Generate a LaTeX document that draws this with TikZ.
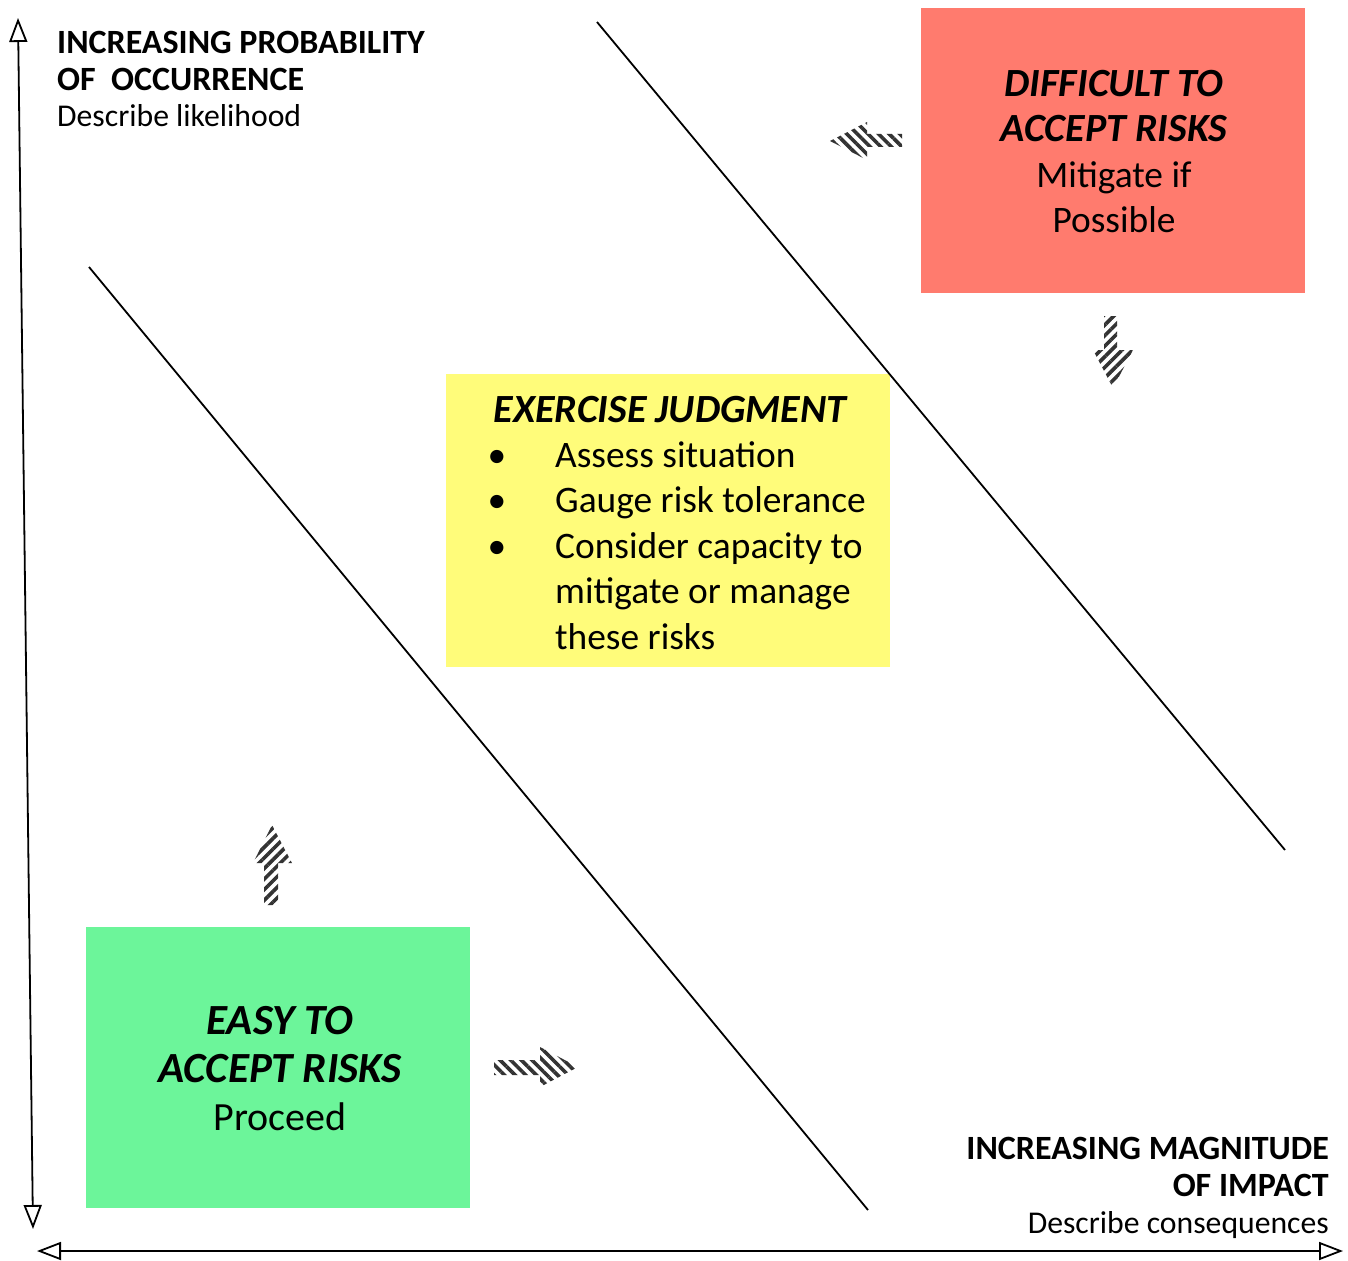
\documentclass[tikz,border=0pt]{standalone}
\usepackage{fontspec}
\setmainfont{Carlito}
\usetikzlibrary{arrows.meta,patterns.meta}
\definecolor{hardred}{HTML}{FF7B6E}
\definecolor{judgeyellow}{HTML}{FFFC7A}
\definecolor{easygreen}{HTML}{6CF59A}
\tikzset{
  axis/.style={line width=1.8pt,{Triangle[open,length=24pt,width=18pt,line width=1.8pt]}-{Triangle[open,length=24pt,width=18pt,line width=1.8pt]}},
  divider/.style={line width=1.8pt},
  striped/.style={fill=white,pattern={Lines[angle=#1,distance=7.5pt,line width=3.6pt]},pattern color=black!80},
  axislabel/.style={font=\fontsize{34}{37}\selectfont\bfseries,inner sep=0pt},
  axisnote/.style={font=\fontsize{31.7}{37}\selectfont,inner sep=0pt},
  boxhead/.style={font=\fontsize{40}{45}\selectfont\bfseries\itshape,inner sep=0pt},
  boxbody/.style={font=\fontsize{37.4}{45}\selectfont,inner sep=0pt},
  greenhead/.style={font=\fontsize{43}{48}\selectfont\bfseries\itshape,inner sep=0pt},
  greenbody/.style={font=\fontsize{40}{48}\selectfont,inner sep=0pt},
}
\begin{document}
\begin{tikzpicture}[x=1pt,y=-1pt]
\useasboundingbox (0,0) rectangle (1348,1260);

% coloured zones
\fill[hardred] (921,8) rectangle (1305,293);
\fill[judgeyellow] (446,374) rectangle (890,667);
\fill[easygreen] (86,927) rectangle (470,1208);

% diagonal dividers
\coordinate (d1a) at (597,22);
\coordinate (d1b) at (1285,850);
\coordinate (d2a) at (89,267);
\coordinate (d2b) at (868,1210);
\draw[divider] (d1a) -- (d1b);
\draw[divider] (d2a) -- (d2b);

% axes
\coordinate (ytop) at (18,18);
\coordinate (ybot) at (33,1229);
\coordinate (xleft) at (37,1251);
\coordinate (xright) at (1343,1251);
\draw[axis] (ybot) -- (ytop);
\draw[axis] (xleft) -- (xright);

% axis labels
\node[axislabel,anchor=base west] (yl1) at (57,54) {INCREASING PROBABILITY};
\node[axislabel,anchor=base west] (yl2) at (57,91) {OF\ \ OCCURRENCE};
\node[axisnote,anchor=base west] (yl3) at (57,127) {Describe likelihood};

\node[axislabel,anchor=base east] (xl1) at (1329,1159) {INCREASING MAGNITUDE};
\node[axislabel,anchor=base east] (xl2) at (1329,1196) {OF IMPACT};
\node[axisnote,anchor=base east] (xl3) at (1329,1233) {Describe consequences};

% difficult zone text
\node[boxhead,anchor=base] (h1) at (1114,97) {DIFFICULT TO};
\node[boxhead,anchor=base] (h2) at (1114,142) {ACCEPT RISKS};
\node[boxbody,anchor=base] (h3) at (1114,187) {Mitigate if};
\node[boxbody,anchor=base] (h4) at (1114,232) {Possible};

% judgment zone text
\node[boxhead,anchor=base] (j0) at (670,422) {EXERCISE JUDGMENT};
\node[boxbody,anchor=base] (b1) at (497,467) {\textbullet};
\node[boxbody,anchor=base] (b2) at (497,512) {\textbullet};
\node[boxbody,anchor=base] (b3) at (497,558) {\textbullet};
\node[boxbody,anchor=base west] (j1) at (555,467) {Assess situation};
\node[boxbody,anchor=base west] (j2) at (555,512) {Gauge risk tolerance};
\node[boxbody,anchor=base west] (j3) at (555,558) {Consider capacity to};
\node[boxbody,anchor=base west] (j4) at (555,603) {mitigate or manage};
\node[boxbody,anchor=base west] (j5) at (555,649) {these risks};

% easy zone text
\node[greenhead,anchor=base] (e1) at (280,1034) {EASY TO};
\node[greenhead,anchor=base] (e2) at (280,1082) {ACCEPT RISKS};
\node[greenbody,anchor=base] (e3) at (280,1130) {Proceed};

% striped direction arrows
\path[striped=-45] (830,141) -- (867,122) -- (867,134) -- (902,134) -- (902,147) -- (867,147) -- (867,160) -- cycle;
\path[striped=45] (1113,388) -- (1093,350) -- (1104,350) -- (1104,316) -- (1117,316) -- (1117,350) -- (1133,350) -- cycle;
\path[striped=45] (272,825) -- (292,863) -- (278,863) -- (278,905) -- (264,905) -- (264,863) -- (253,863) -- cycle;
\path[striped=-45] (578,1067) -- (540,1087) -- (540,1075) -- (494,1075) -- (494,1060) -- (540,1060) -- (540,1047) -- cycle;
\end{tikzpicture}
\end{document}
